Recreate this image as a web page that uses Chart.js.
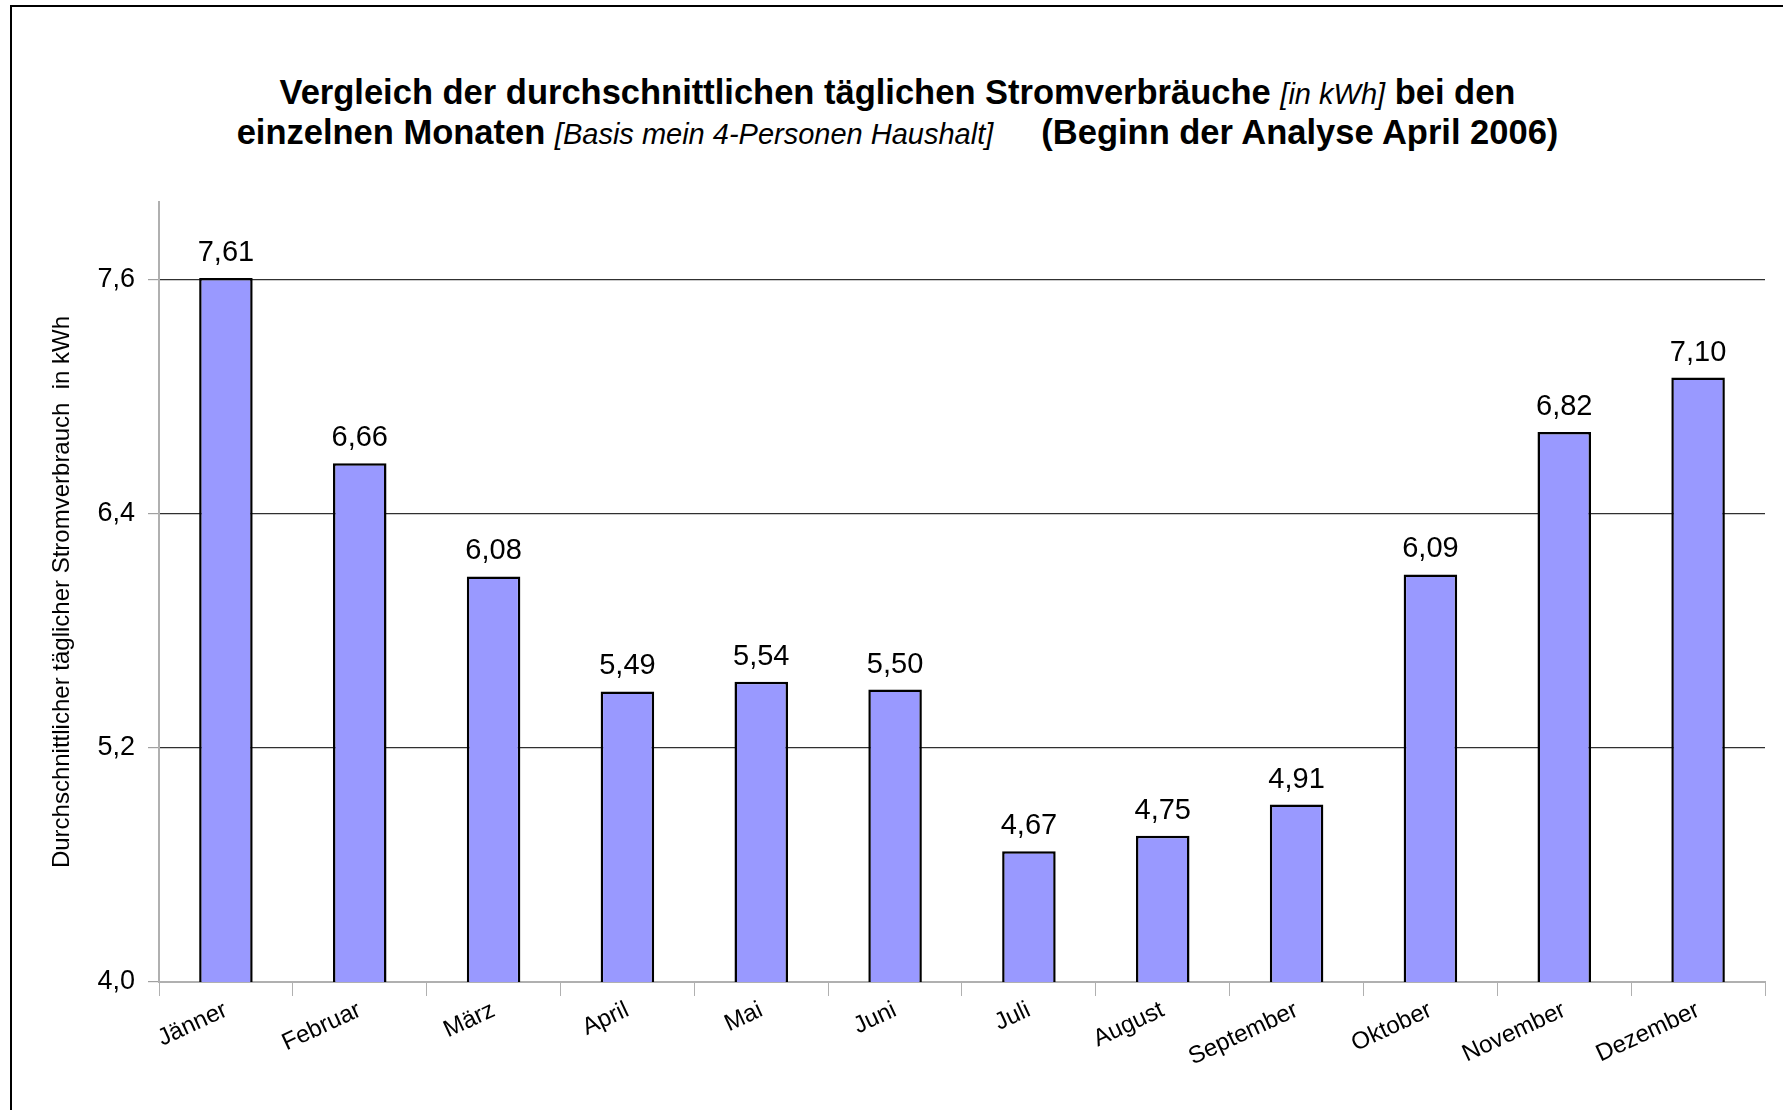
<!DOCTYPE html>
<html>
<head>
<meta charset="utf-8">
<script src="https://cdn.jsdelivr.net/npm/chart.js@4"></script>
<style>
  body { margin: 0; background: #fff; font-family: 'Liberation Sans', Arial, sans-serif; }
  #wrap { position: relative; width: 1783px; height: 1110px; overflow: hidden; }
  #frame { position: absolute; left: 10px; top: 5px; width: 2000px; height: 2000px;
           border-left: 2px solid #000; border-top: 2px solid #000; }
  #title { position: absolute; left: 0; top: 73px; width: 1795px; text-align: center;
           font-size: 34.5px; font-weight: bold; line-height: 38px; color: #000; }
  #title i { font-weight: normal; font-size: 29px; }
  #chartBox { position: absolute; left: 0; top: 0; width: 1783px; height: 1110px; }
</style>
</head>
<body>
<div id="wrap">
  <div id="frame"></div>
  <div id="title">
    Vergleich der durchschnittlichen täglichen Stromverbräuche <i>[in kWh]</i> bei den<br>
    einzelnen Monaten <i>[Basis mein 4-Personen Haushalt]</i><span style="display:inline-block;width:48px"></span>(Beginn der Analyse April 2006)
  </div>
  <div id="chartBox"><canvas id="barChart"></canvas></div>
</div>
<script>
const months = ['Jänner', 'Februar', 'März', 'April', 'Mai', 'Juni', 'Juli', 'August', 'September', 'Oktober', 'November', 'Dezember'];
const usage = [7.61, 6.66, 6.08, 5.49, 5.54, 5.50, 4.67, 4.75, 4.91, 6.09, 6.82, 7.10];
const yTicks = [4.0, 5.2, 6.4, 7.6];

const fontFamily = "'Liberation Sans', Arial, sans-serif";

// Werte über den Balken
const valueLabels = {
    id: 'valueLabels',
    afterDatasetsDraw(chart) {
        const ctx = chart.ctx;
        const meta = chart.getDatasetMeta(0);
        ctx.save();
        ctx.font = '29px ' + fontFamily;
        ctx.fillStyle = '#000';
        ctx.textAlign = 'center';
        ctx.textBaseline = 'alphabetic';
        meta.data.forEach((bar, i) => {
            ctx.fillText(usage[i].toFixed(2).replace('.', ','), bar.x, bar.y - 17);
        });
        ctx.restore();
    }
};

document.addEventListener("DOMContentLoaded", function () {
    const ctx = document.getElementById('barChart').getContext('2d');
    new Chart(ctx, {
        type: 'bar',
        data: {
            labels: months,
            datasets: [{
                data: usage,
                backgroundColor: '#9999FF',
                borderColor: '#000',
                borderWidth: 2.5,
                borderSkipped: false,
                barPercentage: 0.4,
                categoryPercentage: 1.0
            }]
        },
        options: {
            responsive: true,
            maintainAspectRatio: false,
            animation: false,
            layout: { padding: { top: 202, right: 18, left: 0, bottom: 0 } },
            plugins: {
                legend: { display: false },
                title: { display: false },
                tooltip: { enabled: false }
            },
            scales: {
                x: {
                    afterFit(scale) { scale.height = 128; },
                    grid: {
                        offset: true,
                        drawOnChartArea: false,
                        color: '#b0b0b0',
                        tickLength: 14
                    },
                    border: { color: '#b0b0b0', width: 2 },
                    ticks: {
                        color: '#000',
                        font: { family: fontFamily, size: 24 },
                        minRotation: 25,
                        maxRotation: 25,
                        padding: 0
                    }
                },
                y: {
                    min: 4.0,
                    max: 8.0,
                    afterFit(scale) { scale.width = 159; },
                    afterBuildTicks(scale) {
                        scale.ticks = yTicks.map(v => ({ value: v }));
                    },
                    grid: {
                        color: c => c.tick && c.tick.value === 4 ? '#b0b0b0' : '#303030',
                        lineWidth: 1.2,
                        tickColor: '#a0a0a0',
                        tickLength: 11
                    },
                    border: { color: '#b0b0b0', width: 2 },
                    ticks: {
                        color: '#000',
                        font: { family: fontFamily, size: 27 },
                        padding: 13,
                        callback: v => v.toFixed(1).replace('.', ',')
                    },
                    title: {
                        display: true,
                        text: 'Durchschnittlicher täglicher Stromverbrauch  in kWh',
                        color: '#000',
                        font: { family: fontFamily, size: 24 },
                        padding: { top: 48, bottom: 0 }
                    }
                }
            }
        },
        plugins: [valueLabels]
    });
});
</script>
</body>
</html>
